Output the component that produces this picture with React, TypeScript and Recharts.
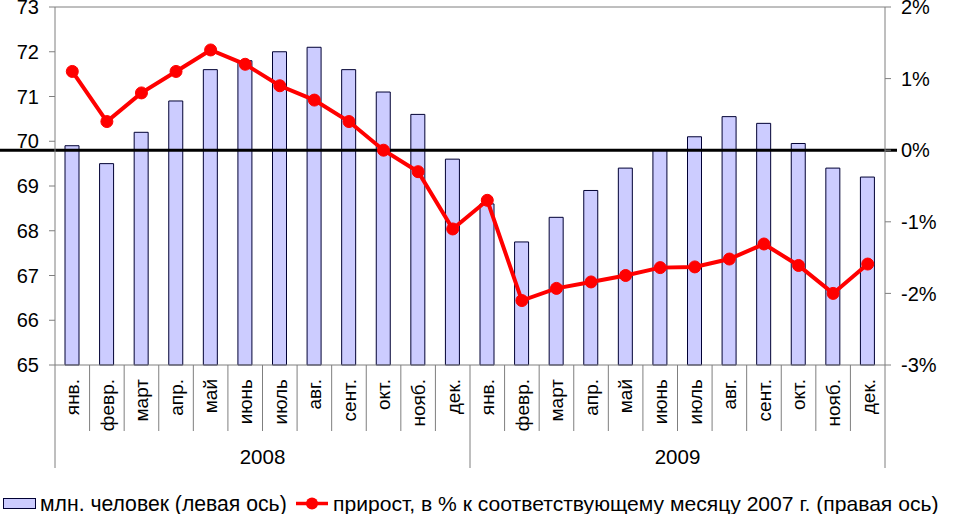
import {
  ComposedChart,
  Bar,
  Line,
  XAxis,
  YAxis,
  ReferenceLine,
  Legend
} from "recharts";

const months = [
  "янв.", "февр.", "март", "апр.", "май", "июнь",
  "июль", "авг.", "сент.", "окт.", "нояб.", "дек."
];
const years = ["2008", "2009"];

// млн. человек (левая ось)
const employed = [
  69.9, 69.5, 70.2, 70.9, 71.6, 71.8, 72.0, 72.1, 71.6, 71.1, 70.6, 69.6,
  68.6, 67.75, 68.3, 68.9, 69.4, 69.8, 70.1, 70.55, 70.4, 69.95, 69.4, 69.2
];
// прирост, % к соответствующему месяцу 2007 г. (правая ось)
const growth = [
  1.1, 0.4, 0.8, 1.1, 1.4, 1.2, 0.9, 0.7, 0.4, 0.0, -0.3, -1.1,
  -0.7, -2.1, -1.93, -1.84, -1.75, -1.64, -1.63, -1.52, -1.31, -1.61, -2.0, -1.59
];

const leftTicks = [65, 66, 67, 68, 69, 70, 71, 72, 73];
const rightTicks = [-3, -2, -1, 0, 1, 2];

const data = employed.map((v, i) => ({
  key: `${years[Math.floor(i / 12)]}-${i % 12}`,
  month: months[i % 12],
  year: years[Math.floor(i / 12)],
  employed: v,
  growth: growth[i]
}));

const W = 953;
const H = 514;
const MARGIN = { top: 7, right: 8, bottom: 46, left: 5 };
const LEFT_W = 50;
const RIGHT_W = 60;
const X_H = 103;
const PLOT_LEFT = MARGIN.left + LEFT_W;
const PLOT_RIGHT = W - MARGIN.right - RIGHT_W;
const PLOT_BOTTOM = H - MARGIN.bottom - X_H;
const STEP = (PLOT_RIGHT - PLOT_LEFT) / data.length;

const FONT = "'Liberation Sans', Arial, sans-serif";
const AXIS_GRAY = "#7f7f7f";

function MonthTick(props: any) {
  const { x, index, payload } = props;
  const d = data[index];
  const left = x - STEP / 2;
  const right = x + STEP / 2;
  return (
    <g>
      <line
        x1={left}
        x2={left}
        y1={PLOT_BOTTOM}
        y2={index % 12 === 0 ? PLOT_BOTTOM + 103 : PLOT_BOTTOM + 66}
        stroke={AXIS_GRAY}
      />
      {index === data.length - 1 && (
        <line x1={right} x2={right} y1={PLOT_BOTTOM} y2={PLOT_BOTTOM + 103} stroke={AXIS_GRAY} />
      )}
      <text
        transform={`translate(${x},${PLOT_BOTTOM + 14}) rotate(-90)`}
        textAnchor="end"
        dy="0.36em"
        fontSize={19}
        fontFamily={FONT}
        fill="#000"
      >
        {payload.value}
      </text>
      {index % 12 === 5 && (
        <text
          x={right}
          y={PLOT_BOTTOM + 99}
          textAnchor="middle"
          fontSize={20.5}
          fontFamily={FONT}
          fill="#000"
        >
          {d.year}
        </text>
      )}
    </g>
  );
}

function LegendContent() {
  return (
    <svg width={W} height={24} style={{ display: "block" }}>
      <rect x={3.5} y={6.5} width={32} height={10} fill="#ccccff" stroke="#000033" />
      <text x={40} y={19} fontSize={21.2} fontFamily={FONT} fill="#000">
        млн. человек (левая ось)
      </text>
      <line x1={296} x2={328} y1={11.5} y2={11.5} stroke="#ff0000" strokeWidth={3.5} />
      <circle cx={312} cy={11.5} r={6} fill="#ff0000" />
      <text x={333} y={19} fontSize={21.1} fontFamily={FONT} fill="#000">
        прирост, в % к соответствующему месяцу 2007 г. (правая ось)
      </text>
    </svg>
  );
}

function ZeroLine(p: any) {
  const a = Math.min(p.x1, p.x2);
  const b = Math.max(p.x1, p.x2);
  return <line x1={a - PLOT_LEFT} x2={b + 12} y1={p.y1} y2={p.y2} stroke="#000" strokeWidth={3} />;
}

export default function App() {
  return (
    <div style={{ position: "absolute", left: 0, top: 0, width: W, height: H, background: "#fff" }}>
      <ComposedChart width={W} height={H} data={data} margin={MARGIN}>
        <XAxis
          dataKey="month"
          xAxisId="m"
          interval={0}
          height={X_H}
          tickLine={false}
          axisLine={{ stroke: AXIS_GRAY }}
          tick={<MonthTick />}
        />
        <YAxis
          yAxisId="left"
          orientation="left"
          domain={[65, 73]}
          ticks={leftTicks}
          interval={0}
          width={LEFT_W}
          tickSize={6}
          tickMargin={10}
          axisLine={{ stroke: AXIS_GRAY }}
          tickLine={{ stroke: AXIS_GRAY }}
          tick={{ fill: "#000", fontSize: 20, fontFamily: FONT }}
        />
        <YAxis
          yAxisId="right"
          orientation="right"
          domain={[-3, 2]}
          ticks={rightTicks}
          interval={0}
          width={RIGHT_W}
          tickSize={6}
          tickMargin={10}
          tickFormatter={(v: number) => `${v}%`}
          axisLine={{ stroke: AXIS_GRAY }}
          tickLine={{ stroke: AXIS_GRAY }}
          tick={{ fill: "#000", fontSize: 20, fontFamily: FONT }}
        />
        <ReferenceLine yAxisId="left" xAxisId="m" y={73} stroke={AXIS_GRAY} />
        <Bar
          xAxisId="m"
          yAxisId="left"
          dataKey="employed"
          barSize={14}
          fill="#ccccff"
          stroke="#000033"
          strokeWidth={1}
          isAnimationActive={false}
        />
        <ReferenceLine
          yAxisId="right"
          xAxisId="m"
          y={0}
          stroke="#000"
          strokeWidth={3}
          shape={ZeroLine}
        />
        <Line
          xAxisId="m"
          yAxisId="right"
          dataKey="growth"
          stroke="#ff0000"
          strokeWidth={4}
          dot={{ r: 6, fill: "#ff0000", stroke: "#ff0000", strokeWidth: 1 }}
          isAnimationActive={false}
        />
        <Legend
          layout="horizontal"
          verticalAlign="middle"
          align="center"
          wrapperStyle={{ top: 492, left: 0, width: W }}
          content={() => <LegendContent />}
        />
      </ComposedChart>
    </div>
  );
}
